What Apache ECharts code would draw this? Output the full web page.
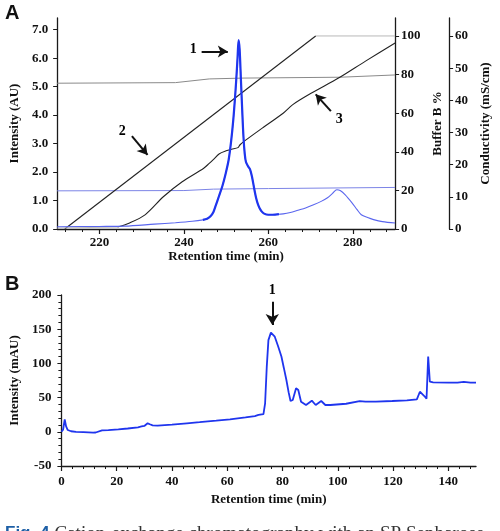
<!DOCTYPE html>
<html><head><meta charset="utf-8">
<script src="https://cdn.jsdelivr.net/npm/echarts@6/dist/echarts.min.js"></script>
<style>html,body{margin:0;padding:0;background:#fff}#c{width:500px;height:531px}</style>
</head><body><div id="c"></div>
<script>
// ---------- Panel A data ----------
const aXTicks = [220, 240, 260, 280];
const aXMinor = [212,216,224,228,232,236,244,248,252,256,264,268,272,276,284,288];
const aIntTicks = [0,1,2,3,4,5,6,7];
const aBufTicks = [0,20,40,60,80,100];
const aCondTicks = [0,10,20,30,40,50,60];
// Intensity (AU) trace [time, AU]
const aIntensity = [[210,0.08],[220,0.09],[226,0.1],[233,0.17],[238,0.22],[242,0.27],[244.5,0.32],[245.5,0.36],[246.3,0.45],[247,0.6],[247.6,0.85],[248.3,1.15],[249.1,1.5],[249.9,1.95],[250.6,2.43],[251.2,3.1],[251.7,3.84],[252.1,4.6],[252.4,5.25],[252.7,6.0],[252.95,6.63],[253.2,6.3],[253.5,5.25],[253.8,4.2],[254.1,3.25],[254.4,2.65],[254.7,2.35],[255.2,2.2],[255.7,2.08],[256.1,1.85],[256.4,1.62],[256.8,1.3],[257.1,1.09],[257.5,0.88],[257.9,0.74],[258.4,0.62],[259,0.54],[260,0.5],[261,0.5],[262.5,0.52],[263.5,0.53],[265.2,0.58],[267,0.66],[268.8,0.74],[270.7,0.85],[272.5,0.97],[274,1.1],[275.2,1.25],[276.2,1.38],[277,1.35],[278.2,1.2],[279.8,0.92],[281,0.68],[282,0.5],[283.5,0.4],[284.9,0.33],[287,0.26],[290,0.21]];
// Buffer B % gradient (line 2)
const aBufferRamp = [[211.8,0],[271.2,100]];
const aBufferFlat = [[271.2,100],[290,100]];
// Conductivity mS/cm (line 3)
const aCondFlat = [[210,0.3],[224.3,0.6]];
const aCond = [[224.3,0.6],[227,1.8],[230.8,4.4],[235.2,10.1],[239.6,14.7],[244.7,18.9],[246,20.4],[246.9,21.5],[248.4,23.4],[250,24.3],[251.3,24.8],[252.8,25.3],[253.3,26.2],[254.7,27.7],[259,31.8],[263.5,36.0],[265.7,38.6],[270,42.1],[276.7,47.0],[283,52.2],[290,57.8]];
// Other traces (AU scale)
const aGrayTrace = [[210,5.12],[238,5.14],[246,5.27],[254,5.3],[277,5.33],[290,5.41]];
const aBlueTrace = [[210,1.34],[240,1.35],[247,1.4],[260,1.42],[290,1.46]];
// Annotations (data coords on AU scale)
const aArrows = [[[244.2,6.23],[250.4,6.23]],[[227.7,3.26],[231.4,2.6]],[[274.8,4.14],[271.2,4.73]]];
const aArrowLabels = [[242.2,6.3,'1'],[225.4,3.42,'2'],[276.8,3.85,'3']];

// ---------- Panel B data ----------
const bXTicks = [0,20,40,60,80,100,120,140];
const bXMinor = [4,8,12,16,24,28,32,36,44,48,52,56,64,68,72,76,84,88,92,96,104,108,112,116,124,128,132,136,144,148];
const bIntensity = [[0,0],[0.6,3],[1.2,18],[1.7,8],[2.3,2.6],[3.5,0.8],[5.3,0],[8,-0.5],[11.5,-1.2],[11.9,-3],[12.4,-1],[14.7,2],[17,2.5],[20.6,3.6],[24,4.8],[27.7,6.5],[29,7.8],[30,8.5],[31.2,12.4],[32,11],[33,9.5],[34.8,9],[40,10.5],[45.4,12.4],[50,14],[56,16.2],[61,18.2],[66.6,21],[70,23],[71.3,24.6],[73.1,26],[73.7,41.7],[74.3,95],[74.9,134],[75.8,145],[77.2,139],[78.4,125],[79.6,110],[80.5,93],[81.4,75.7],[82.2,58],[82.9,45],[83.7,46.5],[84.9,63.6],[85.7,61],[86.7,44],[88.5,39.2],[89,37.7],[90.6,45.5],[92,39.2],[94,45],[95.5,39.2],[97.3,39.2],[103,41],[107.9,45],[110,44],[113.8,44],[119.7,45],[125,46],[128.6,47.5],[129.7,58.6],[131.3,52.3],[132.1,48.4],[132.7,110],[133.3,73.2],[134.5,72.4],[140,72],[143.3,71.8],[145.6,73],[148,71.8],[150,71.8]];
const bArrows = [[[76.3,190],[76.3,156]]];
const bArrowLabels = [[76.3,207,'1']];

const SERIF = 'Liberation Serif';
const AX = '#1a1a1a';
const BLUE = '#1f35ee';
const lblStyle = {fontFamily: SERIF, fontWeight: 'bold', fontSize: 13, color: '#111'};
const nameStyle = {fontFamily: SERIF, fontWeight: 'bold', fontSize: 13, color: '#111'};

const chart = echarts.init(document.getElementById('c'), null, {renderer: 'canvas'});

function arrowLine(pairs) {
  return pairs.map(p => [{coord: p[0]}, {coord: p[1]}]);
}

const peakStart = aIntensity.findIndex(d => d[0] >= 244.5);
const peakEnd = aIntensity.findIndex(d => d[0] >= 262.5);

const labelSeries = (name, xi, yi, data) => ({
  type: 'scatter', name, xAxisIndex: xi, yAxisIndex: yi, data, symbolSize: 0.01, clip: false,
  itemStyle: {color: '#000', opacity: 1},
  label: {show: true, position: 'inside', formatter: p => p.value[2], ...lblStyle, fontSize: 14,
          color: '#000', opacity: 1, textBorderWidth: 0}
});

chart.setOption({
  animation: false,
  backgroundColor: '#fff',
  title: [
    {text: 'A', left: 0, top: -2, textStyle: {fontFamily: 'Liberation Sans', fontWeight: 'bold', fontSize: 20, color: '#111'}},
    {text: 'B', left: 0, top: 269, textStyle: {fontFamily: 'Liberation Sans', fontWeight: 'bold', fontSize: 20, color: '#111'}},
    {text: '{f|Fig. 4} {t|Cation-exchange chromatography with an SP Sepharose}', left: 0, top: 519,
     textStyle: {fontWeight: 'normal', rich: {f: {fontFamily: 'Liberation Sans', fontWeight: 'bold', fontSize: 17, color: '#1d5fa6'},
                        t: {fontFamily: SERIF, fontWeight: 'normal', fontSize: 19.1, color: '#333'}}}}
  ],
  grid: [
    {left: 46, right: 90, top: 18, bottom: 302},
    {left: 52, right: 24, top: 295, bottom: 65}
  ],
  xAxis: [
    {type: 'value', gridIndex: 0, position: 'bottom', min: 210, max: 290, splitLine: {show: false},
     axisLine: {lineStyle: {color: AX, width: 1.3}},
     axisTick: {customValues: aXTicks, length: 5, lineStyle: {color: AX, width: 1.2}},
     axisLabel: {customValues: aXTicks, margin: 7, ...lblStyle},
     name: 'Retention time (min)', nameLocation: 'middle', nameGap: 20, nameTextStyle: nameStyle},
    {type: 'value', gridIndex: 0, position: 'bottom', min: 210, max: 290, splitLine: {show: false},
     axisLine: {show: false}, axisLabel: {show: false},
     axisTick: {customValues: aXMinor, length: 3, lineStyle: {color: AX, width: 1}}},
    {type: 'value', gridIndex: 1, position: 'bottom', min: 0, max: 150, splitLine: {show: false},
     axisLine: {onZero: false, lineStyle: {color: AX, width: 1.3}},
     axisTick: {customValues: bXTicks, length: 5, lineStyle: {color: AX, width: 1.2}},
     axisLabel: {customValues: bXTicks, margin: 9, ...lblStyle},
     name: 'Retention time (min)', nameLocation: 'middle', nameGap: 27, nameTextStyle: nameStyle},
    {type: 'value', gridIndex: 1, position: 'bottom', min: 0, max: 150, splitLine: {show: false},
     axisLine: {show: false, onZero: false}, axisLabel: {show: false},
     axisTick: {customValues: bXMinor, length: 3, lineStyle: {color: AX, width: 1}}}
  ],
  yAxis: [
    {type: 'value', gridIndex: 0, min: 0, max: 7.41, splitLine: {show: false},
     axisLine: {show: true, lineStyle: {color: AX, width: 1.3}},
     axisTick: {show: true, customValues: aIntTicks, length: 4, lineStyle: {color: AX}},
     axisLabel: {customValues: aIntTicks, formatter: v => v.toFixed(1), margin: 9, ...lblStyle},
     name: 'Intensity (AU)', nameLocation: 'middle', nameGap: 29, nameTextStyle: nameStyle},
    {type: 'value', gridIndex: 0, position: 'right', min: 0, max: 109.3, splitLine: {show: false},
     axisLine: {show: true, lineStyle: {color: AX, width: 1.3}},
     axisTick: {show: true, customValues: aBufTicks, length: 4, lineStyle: {color: AX}},
     axisLabel: {customValues: aBufTicks, margin: 6, ...lblStyle},
     name: 'Buffer B %', nameLocation: 'middle', nameGap: 33, nameTextStyle: nameStyle},
    {type: 'value', gridIndex: 0, position: 'right', offset: 54, min: 0, max: 65.6, splitLine: {show: false},
     axisLine: {show: true, lineStyle: {color: AX, width: 1.3}},
     axisTick: {show: true, customValues: aCondTicks, length: 4, lineStyle: {color: AX}},
     axisLabel: {customValues: aCondTicks, margin: 6, ...lblStyle},
     name: 'Conductivity (mS/cm)', nameLocation: 'middle', nameGap: 23, nameTextStyle: nameStyle},
    {type: 'value', gridIndex: 1, min: -50, max: 200, interval: 50, splitLine: {show: false},
     axisLine: {show: true, onZero: false, lineStyle: {color: AX, width: 1.3}},
     axisTick: {show: true, length: 4, lineStyle: {color: AX}},
     minorTick: {show: true, splitNumber: 5, length: 3, lineStyle: {color: AX}},
     axisLabel: {margin: 10, ...lblStyle},
     name: 'Intensity (mAU)', nameLocation: 'middle', nameGap: 36, nameTextStyle: nameStyle}
  ],
  series: [
    {type: 'line', name: 'grayTrace', xAxisIndex: 0, yAxisIndex: 0, data: aGrayTrace, symbol: 'none',
     lineStyle: {color: '#8a8a8a', width: 1}},
    {type: 'line', name: 'blueTrace', xAxisIndex: 0, yAxisIndex: 0, data: aBlueTrace, symbol: 'none',
     lineStyle: {color: '#7c84e6', width: 1}},
    {type: 'line', name: 'bufferFlat', xAxisIndex: 0, yAxisIndex: 1, data: aBufferFlat, symbol: 'none',
     lineStyle: {color: '#b8b8b8', width: 1}},
    {type: 'line', name: 'bufferRamp', xAxisIndex: 0, yAxisIndex: 1, data: aBufferRamp, symbol: 'none',
     lineStyle: {color: '#222', width: 1.1}},
    {type: 'line', name: 'condFlat', xAxisIndex: 0, yAxisIndex: 2, data: aCondFlat, symbol: 'none',
     lineStyle: {color: '#bbbbbb', width: 1}},
    {type: 'line', name: 'cond', xAxisIndex: 0, yAxisIndex: 2, data: aCond, symbol: 'none', smooth: 0.3,
     lineStyle: {color: '#222', width: 1.1}},
    {type: 'line', name: 'intensityA', xAxisIndex: 0, yAxisIndex: 0, data: aIntensity, symbol: 'none', smooth: 0.3,
     lineStyle: {color: '#5a66ee', width: 1.1}},
    {type: 'line', name: 'intensityAPeak', xAxisIndex: 0, yAxisIndex: 0, data: aIntensity.slice(peakStart, peakEnd + 1),
     symbol: 'none', smooth: 0.3, lineStyle: {color: BLUE, width: 2.2},
     markLine: {silent: true, symbol: ['none', 'arrow'], symbolSize: [9, 10], label: {show: false},
                lineStyle: {color: '#111', width: 2, type: 'solid'}, data: arrowLine(aArrows)}},
    labelSeries('labelsA', 0, 0, aArrowLabels),
    {type: 'line', name: 'intensityB', xAxisIndex: 2, yAxisIndex: 3, data: bIntensity, symbol: 'none',
     lineStyle: {color: BLUE, width: 1.8},
     markLine: {silent: true, symbol: ['none', 'arrow'], symbolSize: [10, 11], label: {show: false},
                lineStyle: {color: '#111', width: 2, type: 'solid'}, data: arrowLine(bArrows)}},
    labelSeries('labelsB', 2, 3, bArrowLabels)
  ]
});
</script></body></html>
